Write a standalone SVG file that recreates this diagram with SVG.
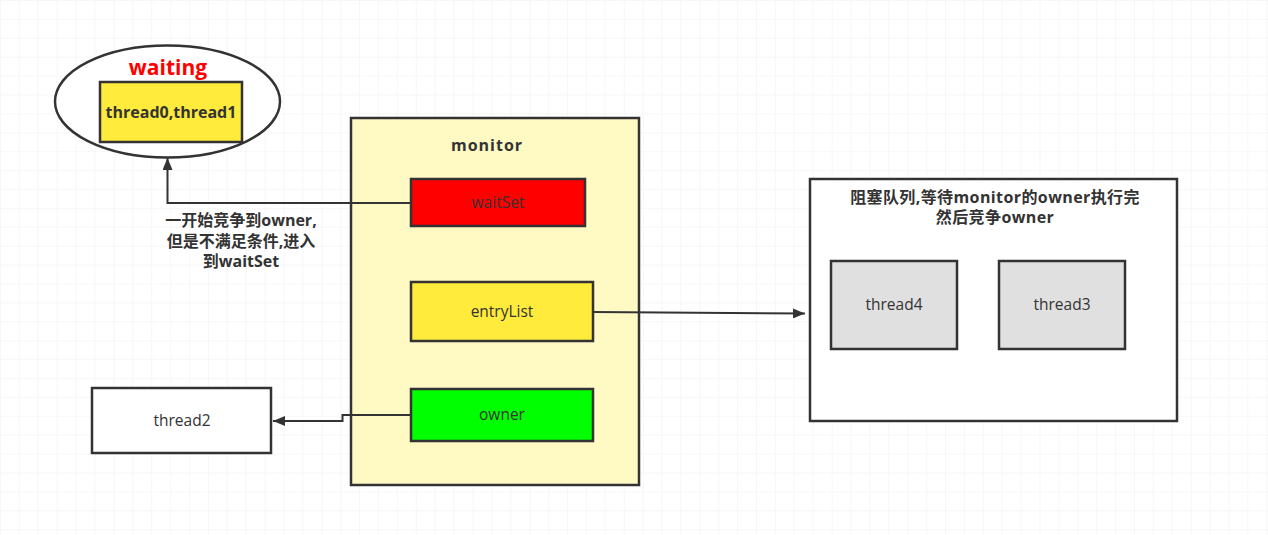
<svg xmlns="http://www.w3.org/2000/svg" width="1268" height="535" viewBox="0 0 1268 535">
<defs>
<pattern id="grid" x="0" y="0" width="18.9" height="18.9" patternUnits="userSpaceOnUse">
<path d="M18.9 0 H0 V18.9" fill="none" stroke="#efefef" stroke-width="1"/>
</pattern>
<marker id="arr" viewBox="0 0 12 10" refX="12" refY="5" markerWidth="12" markerHeight="10" markerUnits="userSpaceOnUse" orient="auto">
<path d="M0 0 L12 5 L0 10 Z" fill="#333"/>
</marker>
</defs>
<style>
.b{stroke:#333;stroke-width:2.5}
.t{font-family:"Open Sans","Noto Sans CJK SC",sans-serif;font-size:15.5px;fill:#333;text-anchor:middle}
.bt{font-family:"Open Sans","Noto Sans CJK SC",sans-serif;font-size:16px;font-weight:bold;fill:#333;text-anchor:middle}
.c{fill:none;stroke:#333;stroke-width:2}
</style>
<rect width="1268" height="535" fill="#fff"/>
<rect width="1268" height="535" fill="url(#grid)"/>

<g id="waiting">
<ellipse cx="167.5" cy="101.5" rx="112.5" ry="56" fill="#fff" class="b"/>
<text x="168" y="75" font-family="Open Sans,sans-serif" font-size="21" font-weight="bold" fill="#ff0000" text-anchor="middle">waiting</text>
<rect x="100" y="82" width="142" height="60" fill="#ffeb3b" class="b"/>
<text x="171" y="118" class="bt" font-size="15">thread0,thread1</text>
</g>

<g id="monitor">
<rect x="351" y="118" width="288" height="367" fill="#fff9c4" class="b"/>
<text x="487" y="151" class="bt" font-size="20" letter-spacing="1">monitor</text>
</g>

<g id="waitSet">
<rect x="411" y="179" width="174" height="47" fill="#ff0000" class="b"/>
<text x="498" y="208" class="t">waitSet</text>
</g>

<g id="entryList">
<rect x="411" y="282" width="182" height="59" fill="#ffeb3b" class="b"/>
<text x="502" y="317" class="t">entryList</text>
</g>

<g id="owner">
<rect x="411" y="389" width="182" height="52" fill="#00ff00" class="b"/>
<text x="502" y="420" class="t">owner</text>
</g>

<g id="thread2">
<rect x="92" y="388" width="179" height="65" fill="#fff" class="b"/>
<text x="182" y="426" class="t">thread2</text>
</g>

<g id="blockQueue">
<rect x="810" y="179" width="367" height="242" fill="#fff" class="b"/>
<text x="995" y="203" class="bt" font-size="17.5" letter-spacing="0.4">阻塞队列,等待monitor的owner执行完</text>
<text x="995" y="223" class="bt" font-size="17.5" letter-spacing="0.4">然后竞争owner</text>
</g>

<g id="thread4">
<rect x="831" y="261" width="126" height="88" fill="#e0e0e0" class="b"/>
<text x="894" y="310" class="t">thread4</text>
</g>

<g id="thread3">
<rect x="999" y="261" width="126" height="88" fill="#e0e0e0" class="b"/>
<text x="1062" y="310" class="t">thread3</text>
</g>

<g id="label">
<text x="241" y="226" class="bt">一开始竞争到owner,</text>
<text x="241" y="247" class="bt">但是不满足条件,进入</text>
<text x="241" y="267" class="bt">到waitSet</text>
</g>

<g id="connectors">
<path class="c" d="M411 203 H167.5 V158" marker-end="url(#arr)"/>
<path class="c" d="M593 312 L805 313.5" marker-end="url(#arr)"/>
<path class="c" d="M411 415 H342.5 V421 H273" marker-end="url(#arr)"/>
</g>
</svg>
